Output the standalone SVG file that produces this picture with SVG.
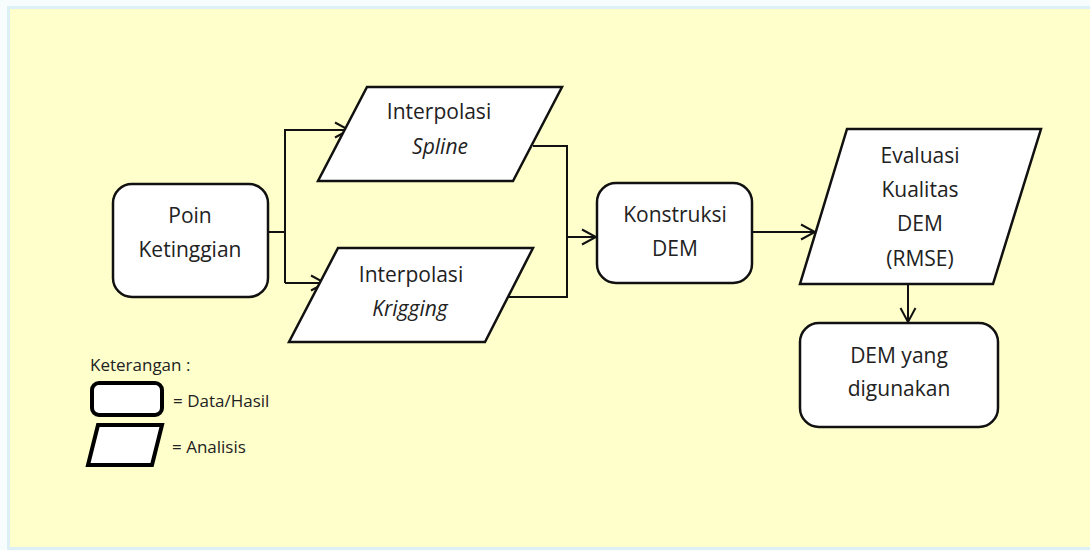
<svg xmlns="http://www.w3.org/2000/svg" width="1090" height="550" viewBox="0 0 1090 550">
  <style>
    .node { fill: #ffffff; stroke: #111111; stroke-width: 2.5; stroke-linejoin: miter; }
    .leg { fill: #ffffff; stroke: #000000; stroke-width: 4; }
    .conn { fill: none; stroke: #111111; stroke-width: 2; }
    text { font-family: "Open Sans", "Liberation Sans", sans-serif; fill: #222222; }
    .t { font-size: 21px; text-anchor: middle; }
    .it { font-style: italic; }
    .l { font-size: 17px; }
  </style>
  <defs>
    <marker id="arr" markerUnits="userSpaceOnUse" markerWidth="18" markerHeight="18" viewBox="0 0 18 18" refX="16" refY="9" orient="auto">
      <path d="M2,1.5 L16,9 L2,16.5" fill="none" stroke="#111111" stroke-width="2"/>
    </marker>
  </defs>

  <rect x="0" y="0" width="1090" height="550" fill="#f7fcfd"/>
  <rect x="8.5" y="7.5" width="1090" height="541" fill="#ffffcc" stroke="#dcf1f6" stroke-width="3"/>

  <g id="connectors">
    <polyline class="conn" points="268,232 285,232"/>
    <polyline class="conn" points="285,283 285,130 349,130" marker-end="url(#arr)"/>
    <polyline class="conn" points="285,283 325,283" marker-end="url(#arr)"/>
    <polyline class="conn" points="533,146 567,146 567,297 507,297"/>
    <polyline class="conn" points="567,237 596,237" marker-end="url(#arr)"/>
    <polyline class="conn" points="752,232 815,232" marker-end="url(#arr)"/>
    <polyline class="conn" points="908,284 908,322" marker-end="url(#arr)"/>
  </g>

  <g id="poin">
    <rect class="node" x="113" y="184" width="155" height="113" rx="19"/>
    <text class="t" x="190" y="223">Poin</text>
    <text class="t" x="190" y="257">Ketinggian</text>
  </g>

  <g id="spline">
    <polygon class="node" points="367,87 562,87 513,181 318,181"/>
    <text class="t" x="439" y="119">Interpolasi</text>
    <text class="t it" x="440" y="154">Spline</text>
  </g>

  <g id="krigging">
    <polygon class="node" points="338,248 533,248 485,342 289,342"/>
    <text class="t" x="411" y="282">Interpolasi</text>
    <text class="t it" x="410" y="316">Krigging</text>
  </g>

  <g id="konstruksi">
    <rect class="node" x="597" y="183" width="155" height="100" rx="19"/>
    <text class="t" x="675" y="222">Konstruksi</text>
    <text class="t" x="675" y="256">DEM</text>
  </g>

  <g id="evaluasi">
    <polygon class="node" points="847,129 1041,129 993,284 800,284"/>
    <text class="t" x="920" y="163">Evaluasi</text>
    <text class="t" x="920" y="197">Kualitas</text>
    <text class="t" x="920" y="231">DEM</text>
    <text class="t" x="920" y="266">(RMSE)</text>
  </g>

  <g id="dem-digunakan">
    <rect class="node" x="800" y="323" width="198" height="104" rx="19"/>
    <text class="t" x="899" y="363">DEM yang</text>
    <text class="t" x="899" y="396">digunakan</text>
  </g>

  <g id="legend">
    <text class="l" x="90" y="371">Keterangan :</text>
    <rect class="leg" x="92" y="383" width="70" height="32" rx="7"/>
    <text class="l" x="173" y="407">= Data/Hasil</text>
    <polygon class="leg" points="98,425 162,425 152,465 88,465"/>
    <text class="l" x="172" y="453">= Analisis</text>
  </g>
</svg>
